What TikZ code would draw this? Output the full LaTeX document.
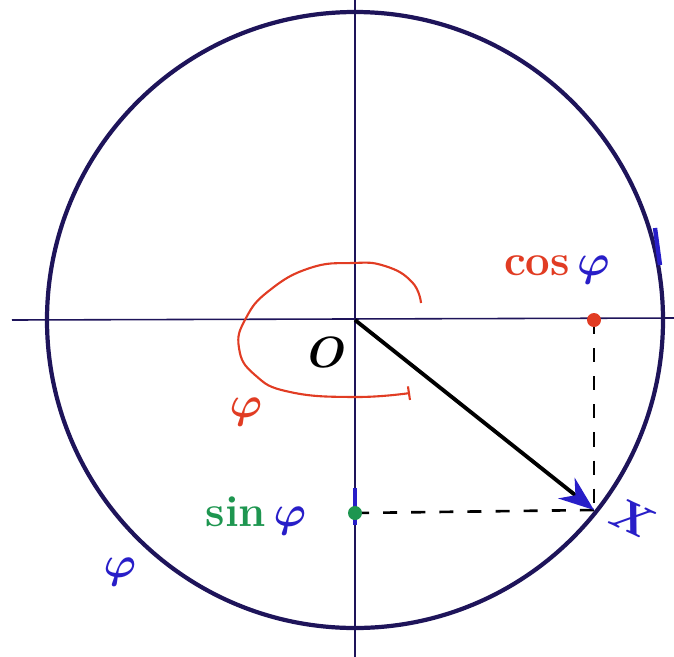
\documentclass[tikz,border=0pt]{standalone}
\usepackage{tikz}
\usetikzlibrary{arrows.meta}

\definecolor{ink}{RGB}{30,20,90}
\definecolor{redpen}{RGB}{225,60,35}
\definecolor{greenpen}{RGB}{30,150,80}
\definecolor{bluepen}{RGB}{40,30,200}

\begin{document}
\begin{tikzpicture}[x=0.02cm,y=-0.02cm,
  axis/.style={ink,line width=0.9pt},
  guide/.style={black,line width=1.5pt,dash pattern=on 8pt off 8pt},
  lbl/.style={inner sep=0pt,font=\Huge\bfseries\boldmath}]
\useasboundingbox (0,0) rectangle (674,657);
\coordinate (O) at (355,320);
\coordinate (X) at (594,510);
\coordinate (C) at (594,320);
\coordinate (S) at (355,513);
\coordinate (west) at (12,320);
\coordinate (east) at (674,318);
\coordinate (north) at (355,0);
\coordinate (south) at (355,657);
\draw[axis] (west) -- (east);
\draw[axis] (north) -- (south);
\draw[ink,line width=2.4pt] (O) circle (308);
\draw[bluepen,line width=2.5pt] (655,228) -- (660,265);
\draw[bluepen,line width=2.5pt] (355,488) -- (355,525);
\draw[guide] (C) -- (X);
\draw[guide] (S) -- (X);
\draw[black,line width=2.2pt,-{Stealth[length=20pt,width=15pt,color=bluepen]}] (O) -- (X);
\draw[redpen,line width=1.2pt,-|] plot[smooth,tension=0.8] coordinates
  {(421,303) (412,282) (385,266) (352,263) (310,268) (270,290) (246,318) (239,348) (255,375) (290,392) (355,397) (410,393)};
\fill[redpen] (C) circle (7);
\fill[greenpen] (S) circle (7);
\node[lbl] (origin) at (327,352) {$O$};
\node[lbl,redpen] (phired) at (246,412) {$\varphi$};
\node[lbl] (cos) at (557,270) {\textcolor{redpen}{cos}\,\textcolor{bluepen}{$\varphi$}};
\node[lbl] (sin) at (256,516) {\textcolor{greenpen}{sin}\,\textcolor{bluepen}{$\varphi$}};
\node[lbl,bluepen,rotate=-25] (Xlbl) at (633,518) {$X$};
\node[lbl,bluepen] (phiarc) at (120,572) {$\varphi$};
\end{tikzpicture}
\end{document}
